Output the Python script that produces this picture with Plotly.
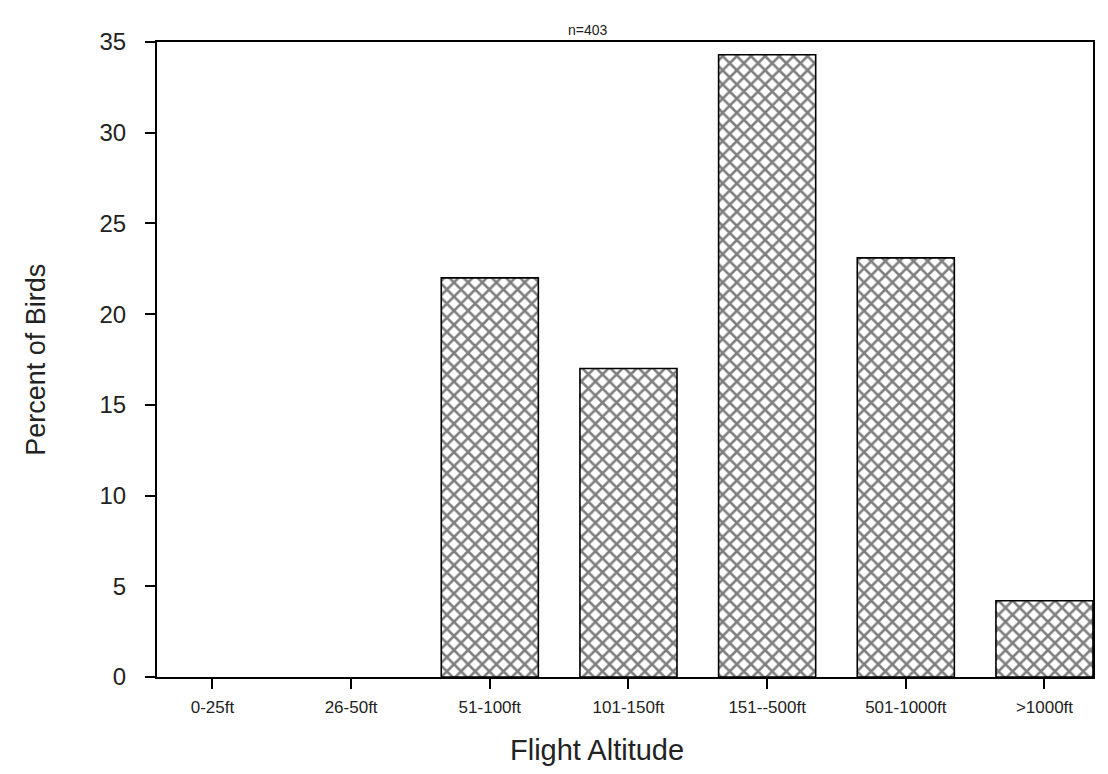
import plotly.graph_objects as go

# Flight altitude classes and share of birds (%)
altitude_classes = ["0-25ft", "26-50ft", "51-100ft", "101-150ft", "151--500ft", "501-1000ft", ">1000ft"]
percent_birds = [0, 0, 22.0, 17.0, 34.3, 23.1, 4.2]
y_ticks = [0, 5, 10, 15, 20, 25, 30, 35]
sample_label = "n=403"

font_family = "Liberation Sans, DejaVu Sans, sans-serif"

# empty classes get no outline so nothing shows along the baseline
outline_widths = [0 if v == 0 else 1.6 for v in percent_birds]

fig = go.Figure(
    go.Bar(
        x=list(range(len(altitude_classes))),
        y=percent_birds,
        width=0.7,
        marker=dict(
            color="white",
            line=dict(color="black", width=outline_widths),
            pattern=dict(shape="x", size=10, solidity=0.45,
                         fgcolor="black", bgcolor="white"),
        ),
        showlegend=False,
    )
)

fig.update_layout(
    width=1108,
    height=774,
    paper_bgcolor="white",
    plot_bgcolor="white",
    margin=dict(l=157, r=15, t=42, b=97),
    font=dict(family=font_family, color="#222"),
)

fig.update_xaxes(
    range=[-0.4, 6.35],
    tickmode="array",
    tickvals=list(range(len(altitude_classes))),
    ticktext=altitude_classes,
    ticks="outside",
    ticklen=10,
    tickwidth=1.5,
    tickcolor="black",
    tickfont=dict(size=17),
    ticklabelstandoff=4,
    showline=True,
    linecolor="black",
    linewidth=2,
    mirror=True,
    showgrid=False,
    zeroline=False,
)

fig.update_yaxes(
    range=[0, 35],
    tickmode="array",
    tickvals=y_ticks,
    ticks="outside",
    ticklen=10,
    tickwidth=1.5,
    tickcolor="black",
    tickfont=dict(size=24),
    ticklabelstandoff=14,
    showline=True,
    linecolor="black",
    linewidth=2,
    mirror=True,
    showgrid=False,
    zeroline=False,
)

fig.add_annotation(
    text=sample_label, xref="paper", yref="paper", x=0.46, y=1.0,
    yanchor="bottom", yshift=2, showarrow=False, font=dict(size=14),
)
fig.add_annotation(
    text="Percent of Birds", xref="paper", yref="paper", x=-0.13, y=0.5,
    xanchor="center", yanchor="middle",
    textangle=-90, showarrow=False, font=dict(size=27),
)
fig.add_annotation(
    text="Flight Altitude", xref="paper", yref="paper", x=0.47, y=-0.115,
    xanchor="center", yanchor="middle", showarrow=False, font=dict(size=29),
)

fig.write_html("out.html")
